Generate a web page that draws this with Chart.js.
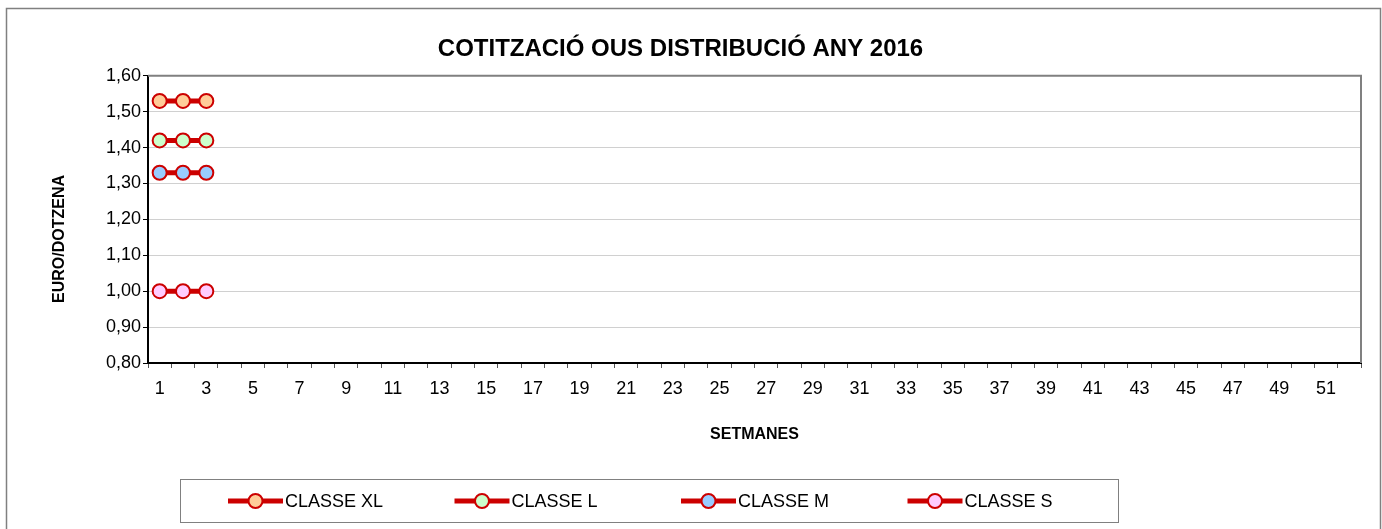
<!DOCTYPE html>
<html>
<head>
<meta charset="utf-8">
<script src="https://cdn.jsdelivr.net/npm/chart.js"></script>
<style>
  html, body { margin: 0; padding: 0; background: #fff; }
  #wrap { position: relative; width: 1382px; height: 529px; }
</style>
</head>
<body>
<div id="wrap"><canvas id="chart" width="1382" height="529"></canvas></div>
<script>
// Weeks of the year (category axis)
const weeks = Array.from({ length: 52 }, (_, i) => String(i + 1));

// Price per dozen, only the first three weeks published
const classeXL = [1.53, 1.53, 1.53];
const classeL = [1.42, 1.42, 1.42];
const classeM = [1.33, 1.33, 1.33];
const classeS = [1.00, 1.00, 1.00];

const seriesNames = ['CLASSE XL', 'CLASSE L', 'CLASSE M', 'CLASSE S'];
const seriesFills = ['#FFCC99', '#CCFFCC', '#99CCFF', '#FFCCFF'];

const LINE_RED = '#CC0000';
const FONT = "'Liberation Sans', Arial, sans-serif";

Chart.defaults.font.family = FONT;
Chart.defaults.color = '#000';

const makeSet = (label, data, fill) => ({
    label,
    data,
    borderColor: LINE_RED,
    borderWidth: 5,
    pointRadius: 7,
    pointHoverRadius: 7,
    pointBackgroundColor: fill,
    pointBorderColor: LINE_RED,
    pointBorderWidth: 2,
    tension: 0,
    spanGaps: false
});

// Frame, top/right plot border, y title and the boxed legend
const decorPlugin = {
    id: 'decor',
    beforeDatasetsDraw(chart) {
        const { ctx, chartArea: a } = chart;
        ctx.save();
        ctx.strokeStyle = '#808080';
        ctx.lineWidth = 2;
        ctx.beginPath();
        ctx.moveTo(a.left, a.top);
        ctx.lineTo(a.right, a.top);
        ctx.lineTo(a.right, a.bottom);
        ctx.stroke();
        ctx.restore();
    },
    afterDraw(chart) {
        const { ctx } = chart;
        ctx.save();
        // outer frame
        ctx.strokeStyle = '#808080';
        ctx.lineWidth = 1.5;
        ctx.strokeRect(6.5, 8.5, 1374, 540);

        // y axis title, a bit below the plot centre like the original
        ctx.save();
        ctx.translate(60, 239);
        ctx.rotate(-Math.PI / 2);
        ctx.font = 'bold 16px ' + FONT;
        ctx.fillStyle = '#000';
        ctx.textAlign = 'center';
        ctx.textBaseline = 'middle';
        ctx.fillText('EURO/DOTZENA', 0, 0);
        ctx.restore();

        // legend box
        ctx.lineWidth = 1;
        ctx.strokeRect(180.5, 479.5, 938, 43);

        const y = 501;
        ctx.font = '18px ' + FONT;
        ctx.textBaseline = 'middle';
        ctx.textAlign = 'left';
        chart.data.datasets.forEach((ds, i) => {
            const x0 = 228 + i * 226.5;
            ctx.strokeStyle = LINE_RED;
            ctx.lineWidth = 5;
            ctx.beginPath();
            ctx.moveTo(x0, y);
            ctx.lineTo(x0 + 55, y);
            ctx.stroke();
            ctx.beginPath();
            ctx.arc(x0 + 27.5, y, 7, 0, Math.PI * 2);
            ctx.fillStyle = ds.pointBackgroundColor;
            ctx.fill();
            ctx.lineWidth = 2;
            ctx.stroke();
            ctx.fillStyle = '#000';
            ctx.fillText(ds.label, x0 + 57, y + 1);
        });
        ctx.restore();
    }
};

new Chart(document.getElementById('chart'), {
    type: 'line',
    data: {
        labels: weeks,
        datasets: [
            makeSet(seriesNames[0], classeXL, seriesFills[0]),
            makeSet(seriesNames[1], classeL, seriesFills[1]),
            makeSet(seriesNames[2], classeM, seriesFills[2]),
            makeSet(seriesNames[3], classeS, seriesFills[3])
        ]
    },
    options: {
        responsive: false,
        devicePixelRatio: 1,
        animation: false,
        layout: { padding: { left: 0, right: 21, top: 20, bottom: 66 } },
        plugins: {
            legend: { display: false },
            tooltip: { enabled: false },
            title: {
                display: true,
                text: 'COTITZACIÓ OUS DISTRIBUCIÓ ANY 2016',
                font: { size: 24, weight: 'bold', family: FONT },
                color: '#000',
                padding: { top: 15, bottom: 12 }
            }
        },
        scales: {
            x: {
                type: 'category',
                offset: true,
                grid: {
                    offset: true,
                    drawOnChartArea: false,
                    drawTicks: true,
                    tickLength: 5,
                    tickColor: '#555'
                },
                border: { color: '#000', width: 2 },
                ticks: {
                    autoSkip: false,
                    maxRotation: 0,
                    padding: 10,
                    font: { size: 18 },
                    callback(value, index) {
                        return index % 2 === 0 ? this.getLabelForValue(value) : '';
                    }
                },
                title: {
                    display: true,
                    text: 'SETMANES',
                    font: { size: 16, weight: 'bold' },
                    padding: { top: 0, bottom: 19 }
                },
                afterFit(scale) { scale.height = 100; }
            },
            y: {
                min: 0.8,
                max: 1.6,
                grid: {
                    color: '#D0D0D0',
                    lineWidth: 1,
                    tickLength: 5,
                    tickColor: '#000'
                },
                border: { color: '#000', width: 2 },
                ticks: {
                    stepSize: 0.1,
                    padding: 2,
                    font: { size: 18 },
                    callback: (v) => v.toFixed(2).replace('.', ',')
                },
                afterFit(scale) { scale.width = 148; }
            }
        }
    },
    plugins: [decorPlugin]
});
</script>
</body>
</html>
